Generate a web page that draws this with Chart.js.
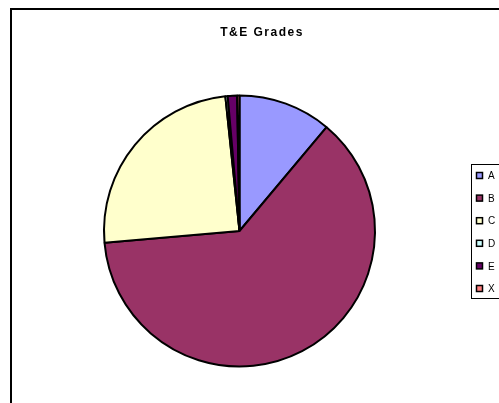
<!DOCTYPE html>
<html>
<head>
<meta charset="utf-8">
<script src="https://cdn.jsdelivr.net/npm/chart.js@4.4.0/dist/chart.umd.min.js"></script>
<style>
  html, body { margin: 0; padding: 0; background: #fff; overflow: hidden; }
  #wrap { position: relative; width: 499px; height: 403px; }
  #frame { position: absolute; left: 10px; top: 8px; width: 560px; height: 460px; border: 2px solid #000; box-sizing: border-box; }
  #piechart { position: absolute; left: 0; top: 0; }
</style>
</head>
<body>
<div id="wrap">
  <div id="frame"></div>
  <canvas id="piechart" width="499" height="403"></canvas>
</div>
<script>
const grades = ['A', 'B', 'C', 'D', 'E', 'X'];
const counts = [40, 225, 89, 1, 4, 1];
const colours = ['#9999FF', '#993366', '#FFFFCC', '#CCFFFF', '#660066', '#FF8080'];
const chartTitle = 'T&E Grades';

// titulo e legenda desenhados a mao pra ficar igual ao excel
const extras = {
  id: 'extras',
  afterDraw(chart) {
    const c = chart.ctx;
    c.save();
    c.fillStyle = '#000';
    c.font = 'bold 12px "Liberation Sans", Arial, sans-serif';
    c.letterSpacing = '1.5px';
    c.textAlign = 'center';
    c.textBaseline = 'middle';
    c.fillText(chartTitle, 262, 33);
    c.letterSpacing = '0px';

    // caixa da legenda
    c.strokeStyle = '#000';
    c.lineWidth = 1;
    c.strokeRect(471.5, 164.5, 40, 134);
    c.font = '10px "Liberation Sans", Arial, sans-serif';
    c.textAlign = 'left';
    c.lineWidth = 1.5;
    chart.data.labels.forEach((lab, i) => {
      const y = 176 + i * 22.6;
      c.fillStyle = chart.data.datasets[0].backgroundColor[i];
      c.fillRect(476.5, y - 3.5, 6, 6);
      c.strokeRect(476.5, y - 3.5, 6, 6);
      c.fillStyle = '#000';
      c.fillText(lab, 488, y + 0.5);
    });
    c.restore();
  }
};

new Chart(document.getElementById('piechart'), {
  type: 'pie',
  data: {
    labels: grades,
    datasets: [{
      data: counts,
      backgroundColor: colours,
      borderColor: '#000',
      borderWidth: 2
    }]
  },
  options: {
    responsive: false,
    animation: false,
    layout: { padding: { left: 103, right: 123, top: 94, bottom: 35 } },
    plugins: {
      legend: { display: false },
      title: { display: false },
      tooltip: { enabled: false }
    }
  },
  plugins: [extras]
});
</script>
</body>
</html>
